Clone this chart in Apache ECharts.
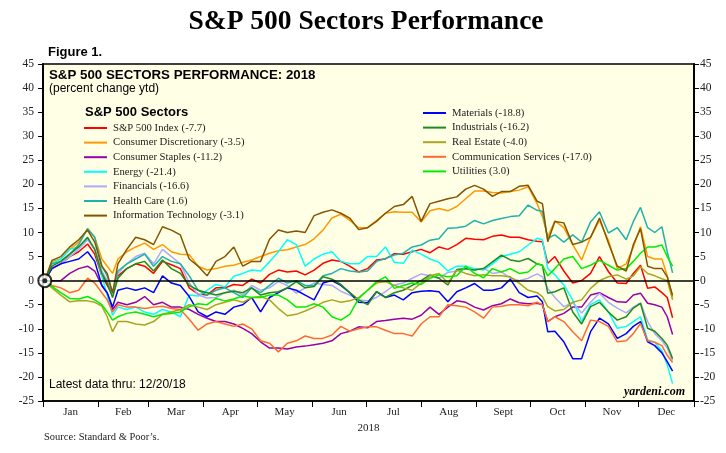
<!DOCTYPE html>
<html>
<head>
<meta charset="utf-8">
<script src="https://cdn.jsdelivr.net/npm/echarts@6/dist/echarts.min.js"></script>
<style>
html,body{margin:0;padding:0;background:#fff;}
#chart{width:726px;height:453px;}
</style>
</head>
<body>
<div id="chart"></div>
<script>
// ---- data (percent change ytd, 2018) ----
const days = [1,5,10,15,20,25, 29,33,36,39,42,
  47,52,57,62,67,72,77,82,87,92,
  97,102,107,112,117,122,127,132,137,142,
  147,152,157,162,167,172,177,182,187,192,
  197,202,207,212,217,222,227,232,237,242,
  247,252,257,262,267,272,277,
  280,283,287,
  292,297,302,307,312,317,322,327,
  331,335,339,343,347,350,353];

const sp500 = [0,2.6,3.5,5,6,7.6, 5.5,1,-1,-3,1,
  2.5,3.5,3,1.5,4,3.3,2.5,-1.5,-2.8,-3,
  -1.5,-1.5,-0.8,-1,0.3,-0.5,1.3,2.2,1.8,2,
  1.2,2.2,3.6,4.3,4,3,1.8,2.5,4.3,4.5,
  5.6,5.5,6,6.5,5.8,7,6.5,7.5,8.8,8.6,
  8.5,9.2,9.5,9,9,8.5,8.2,
  8.1,3.6,5,
  2,-0.5,0,1.5,5,1.9,-0.5,-0.6,
  1.5,3.2,-1.6,-1.3,-2.5,-3.5,-7.7];

const consDisc = [0,4,4.5,6.5,8,10.8, 9,4.5,3,1.5,4.5,
  6,7,7.8,6.5,7.5,6,5.5,5.4,3,2.2,
  2.5,3,3.2,3.8,4.3,5,5.7,6.2,6.4,7,
  7.5,8.7,10.5,13,13.8,12.5,11,11,12.5,14,
  14.3,14.2,14.2,12.2,14.5,15,14.5,15.4,17,18.6,
  18.6,18.3,18.2,18.5,18.8,19.5,16,
  13.3,9.1,12.4,
  11,7.5,4.3,9,12.5,8.4,2.5,3.5,
  7,11.2,5,4.5,4.5,1,-3.5];

const consStaples = [0,0,0,1.5,2.5,3, 2,-1,-2.6,-6,-4.5,
  -5,-4.5,-3.3,-5,-4.5,-5.5,-5.5,-6,-7,-7.8,
  -8.5,-8.5,-9,-9.9,-11,-12.7,-14,-14,-14.2,-13.8,
  -13.6,-13.3,-13,-12.5,-11,-10.5,-9.6,-9.8,-8.5,-8.3,
  -8,-7.8,-8,-7.2,-5.5,-7,-5.5,-4.2,-4.5,-5.5,
  -6.1,-5.2,-4.8,-3.8,-4.6,-4.8,-4.7,
  -5,-8.5,-7.5,
  -6.8,-5.5,-5.5,-3,-2.5,-3.5,-4.4,-4.5,
  -3,-2.6,-4.7,-5,-5.5,-7.5,-11.2];

const energy = [0,3.6,4.5,6.5,7,8.7, 6.5,1,-3,-7.2,-5.5,
  -6,-5.5,-6.5,-7,-6,-6.5,-7.5,-3,-3.2,-2,
  -0.8,-1.3,0.9,1.5,2.2,2,3.9,6,8.5,7.5,
  3,4.5,5.5,6,4,3.5,3.5,5,5,7,
  3.8,3.6,6.3,5.5,4.5,3.8,2,3,3,2.5,
  2.2,3.5,5,5.5,6,7.4,8.8,
  8.5,2.5,1.2,
  -0.9,-4,-8.5,-5,-4,-6.5,-9.9,-9.5,
  -8.5,-7.5,-12.3,-12.8,-14.5,-17.5,-21.4];

const financials = [0,2.5,3.5,5,6.5,8.5, 6.5,2,0,-3,1.5,
  3.5,5,5.7,3.5,6.5,5,3.5,-0.5,-3,-3.6,
  -3.5,-2.5,-2,-3,-1,-2,-1.5,-0.2,-1,-2.6,
  -1.5,-0.5,-0.8,-1,-2.2,-3,-4,-4.2,-3.5,-2.3,
  -0.9,-0.5,0.5,1.4,1,0.5,1.7,2,2.4,2.2,
  2.6,1.5,1.8,0.5,0,0.5,1.4,
  0.8,-1.6,-3.5,
  -5.4,-4.5,-6.7,-4.5,-2.6,-4.5,-5.7,-6.7,
  -5.5,-4.6,-8.5,-11,-12.5,-14,-16.6];

const healthCare = [0,3.5,4,5.5,7.5,10.8, 9,3,1,-2.5,2,
  3.5,4.5,5.5,3,5,4,3.5,1,-2,-3,
  -2,-1.5,-2.5,-3.5,-1.5,-2.5,-1,0.5,-0.5,0,
  -1,-1,1,1.5,2.5,2,1.8,2,4,4.6,
  5.3,5.7,7,7.4,8.4,8.7,10.9,11,11.3,12.5,
  11.8,12.5,12.9,13.3,13.5,15.7,14.6,
  14.4,8.8,9.5,
  8,9.5,8,12.2,14.3,9.9,11,8.5,
  12.3,15.2,11,10,11.2,6,1.6];

const infoTech = [0,4.2,5,7,8.5,10.5, 8,3,1.5,-2.6,3.5,
  6.5,9,8.5,7.5,11.2,10.5,9.5,4.5,3,1,
  4,5,7,3,4,4,8.6,10.5,10,10.3,
  10,13.5,14.2,14.7,14,13,10.6,11,12.3,14,
  15.4,15.8,17.5,12.3,16,16.5,17,17.4,19,19.8,
  19,17.5,18.5,18.5,19.6,19.8,16.5,
  16,8.1,12.3,
  12,7.5,8,9,13,7.8,3,2,
  7.5,10.8,3,2.5,2.5,0.8,-3.1];

const materials = [0,2.5,3.5,4,4.5,6, 4,-1,-2.5,-5.5,-2,
  -1.5,-2,-1.5,-2.5,1,-0.5,-1,-3.3,-6.5,-7.5,
  -6.5,-7,-5.5,-5,-3.5,-6.5,-3.5,-2.5,-1.5,-2,
  -3,-4,-0.5,0,-1,-2.5,-4.5,-4.6,-2.3,-3.5,
  -3,-4,-2.5,-2.2,-2.1,-2.3,-4.4,-2.3,-1.5,-0.6,
  -2,-2,-1.5,0.3,-2.5,-3.5,-3.2,
  -4.4,-10.6,-10.5,
  -12.7,-16.2,-16.2,-10.6,-7.8,-9,-12,-11,
  -9.5,-8.5,-12.7,-13.5,-15,-16.8,-18.8];

const industrials = [0,3,4,5.5,7,9, 6.5,1.5,-0.5,-3.5,0.5,
  2.5,3.5,4,2,4.3,2.5,1.5,-1,-2,-2.5,
  -3,-2.5,-2.2,-2.5,-1.5,-3,-2.5,-2.3,-1.5,-0.2,
  -1.5,-1.2,0.8,0.3,-0.8,-2.5,-4,-5,-2.3,-3.5,
  -2.5,-2,-1,0,1.2,0.5,-0.9,2.3,2.5,2.2,
  2.5,3.9,5.3,4.3,4,4.6,3.5,
  3.2,-2.6,-2.3,
  -1.5,-6.5,-9,-5.4,-4.5,-6.5,-8.2,-7.5,
  -5.7,-4.7,-9.9,-10.5,-12,-13.4,-16.2];

const realEstate = [0,-1.5,-3,-4.4,-4.2,-4.2, -4.5,-5.3,-7.5,-10.6,-8.5,
  -8.5,-9,-9.2,-8.5,-7,-6.5,-6,-5,-5.5,-6,
  -5,-4.5,-4,-4.5,-3.5,-3.3,-4,-5.8,-7.3,-7,
  -6.3,-5.5,-4.5,-4,-4.5,-4.2,-3.5,-2,-0.5,-0.2,
  -1,-1.5,-2,-0.5,1,1.5,-0.5,2.2,1.5,1,
  1.2,1,1,0.8,-0.5,-2,-2.5,
  -3.3,-5.4,-6.3,
  -6,-4.5,-4,-1.6,0,0.8,1.2,0.3,
  1,2.9,1.5,1,0.4,0,-4];

const commServices = [0,-1,-1.5,-2.5,-2,0.5, -0.5,-2.5,-4,-6.5,-5,
  -5.5,-5.5,-5.8,-5.5,-5.3,-5.8,-6,-8,-10.3,-9,
  -8.5,-9,-9.5,-9,-10,-12.5,-13,-14.8,-13,-12.5,
  -11.5,-12,-12,-11.3,-9.5,-10.5,-10,-9.6,-9.6,-10.3,
  -11,-11,-11.5,-9,-7.5,-7.5,-5,-5.2,-5.5,-6.5,
  -7.8,-5.5,-5.3,-5,-5,-5.2,-4.5,
  -5,-8.5,-7.5,
  -8.5,-10.6,-12.5,-8.2,-8.5,-9.5,-12.7,-12.5,
  -11,-8.9,-12.5,-12.8,-13.5,-15.5,-17];

const utilities = [0,-1.2,-2.5,-3.7,-3.8,-3.3, -4,-5,-6.5,-8.2,-7.5,
  -6.8,-6.5,-7,-7.5,-7,-6.8,-6.5,-5.4,-4.8,-5,
  -3.7,-4.2,-3.8,-3.2,-3.5,-3.5,-3,-3,-4,-5.5,
  -5.5,-4.8,-5.5,-7.5,-8.2,-7,-3.7,-2,-0.2,0.8,
  -1.6,-1,-0.5,-0.8,0.5,1.2,0.8,1,3,1.5,
  0.6,2.5,1.8,2.5,1.5,1.8,3.5,
  3.2,1,2.5,
  4.5,5,2.5,3.2,4.2,3.2,2.2,2.5,
  4,5.7,7,7,7.4,5,3];

const leftNames = ['S&P 500 Index (-7.7)','Consumer Discretionary (-3.5)','Consumer Staples (-11.2)',
  'Energy (-21.4)','Financials (-16.6)','Health Care (1.6)','Information Technology (-3.1)'];
const rightNames = ['Materials (-18.8)','Industrials (-16.2)','Real Estate (-4.0)',
  'Communication Services (-17.0)','Utilities (3.0)'];

const monthNames = ['Jan','Feb','Mar','Apr','May','Jun','Jul','Aug','Sept','Oct','Nov','Dec'];
const monthStarts = [0,31,59,90,120,151,181,212,243,273,304,334,365];
const yMin = -25, yMax = 45, yStep = 5;

// ---- chart ----
const serif = '"Liberation Serif", "Times New Roman", serif';
const sans = '"Liberation Sans", Arial, sans-serif';
const monthMids = monthNames.map((m,i)=> (monthStarts[i]+monthStarts[i+1])/2);

const seriesDefs = [
  [leftNames[0], sp500, '#FF0000'],
  [leftNames[1], consDisc, '#FF9900'],
  [leftNames[2], consStaples, '#9900A8'],
  [leftNames[3], energy, '#00FFFF'],
  [leftNames[4], financials, '#AAAAFF'],
  [leftNames[5], healthCare, '#20B2AA'],
  [rightNames[0], materials, '#0000FF'],
  [rightNames[1], industrials, '#1E8B1E'],
  [rightNames[2], realEstate, '#A8A520'],
  [rightNames[3], commServices, '#FF6A33'],
  [rightNames[4], utilities, '#00EE00'],
  [leftNames[6], infoTech, '#845400']
];

const series = seriesDefs.map(([name, vals, color], k) => {
  const s = {
    name, type:'line', data: days.map((d,i)=>[d, vals[i]]),
    showSymbol:false, symbol:'none',
    lineStyle:{color, width:1.5}, itemStyle:{color},
    emphasis:{disabled:true}, silent:true, z:3
  };
  if (k === 0) {
    s.markLine = {silent:true, symbol:'none', label:{show:false},
      lineStyle:{color:'#000', width:1.6, type:'solid'}, data:[{yAxis:0}], z:5};
  }
  return s;
});
series.push({type:'scatter', data:[[days[0], sp500[0]]], symbol:'circle', symbolSize:13,
  itemStyle:{color:'#fff', borderColor:'#000', borderWidth:2}, z:10, silent:true});
series.push({type:'scatter', data:[[days[0], sp500[0]]], symbol:'circle', symbolSize:5,
  itemStyle:{color:'#000'}, z:11, silent:true});

const yAxisBase = (pos, margin) => ({
  type:'value', min:yMin, max:yMax, interval:yStep, position:pos,
  axisLine:{show:true, lineStyle:{color:'#000', width:2}},
  axisTick:{show:true, length:5, lineStyle:{color:'#000', width:1}},
  axisLabel:{color:'#222', fontFamily:serif, fontSize:11.5, margin},
  splitLine:{show:false}
});

const legendBase = {
  orient:'vertical', icon:'rect', itemWidth:23, itemHeight:2, itemGap:2.6,
  selectedMode:false,
  textStyle:{fontFamily:serif, fontSize:10.7, color:'#222', lineHeight:12, padding:[0,0,0,1]}
};

const option = {
  animation:false,
  backgroundColor:'#fff',
  grid:{left:43, right:32, top:64, bottom:52, show:true, backgroundColor:'#FFFFE6',
    borderColor:'#000', borderWidth:1.5},
  xAxis:{
    type:'value', min:0, max:365,
    axisLine:{show:true, onZero:false, lineStyle:{color:'#000', width:1.5}},
    axisTick:{show:true, customValues:monthStarts, length:6, lineStyle:{color:'#000'}},
    axisLabel:{customValues:monthMids, color:'#222', fontFamily:serif, fontSize:11, margin:6,
      formatter:(v)=>{ const i = monthMids.indexOf(v); return i>=0 ? monthNames[i] : ''; }},
    splitLine:{show:false},
    name:'2018', nameLocation:'middle', nameGap:21,
    nameTextStyle:{color:'#222', fontFamily:serif, fontSize:11}
  },
  yAxis:[yAxisBase('left', 9), yAxisBase('right', 6)],
  legend:[
    Object.assign({}, legendBase, {data:leftNames, left:79, top:117}),
    Object.assign({}, legendBase, {data:rightNames, left:418, top:102})
  ],
  graphic:[
    {type:'text', x:366, y:22, style:{text:'S&P 500 Sectors Performance', font:'bold 27.5px '+serif,
      fill:'#000', textAlign:'center', textVerticalAlign:'middle'}},
    {type:'text', x:48, y:52, style:{text:'Figure 1.', font:'bold 13px '+sans, fill:'#000',
      textAlign:'left', textVerticalAlign:'middle'}},
    {type:'text', x:49, y:75, z:20, style:{text:'S&P 500 SECTORS PERFORMANCE: 2018', font:'bold 13.3px '+sans,
      fill:'#000', textAlign:'left', textVerticalAlign:'middle'}},
    {type:'text', x:49, y:89, z:20, style:{text:'(percent change ytd)', font:'12px '+sans, fill:'#000',
      textAlign:'left', textVerticalAlign:'middle'}},
    {type:'text', x:85, y:112, z:20, style:{text:'S&P 500 Sectors', font:'bold 13px '+sans, fill:'#000',
      textAlign:'left', textVerticalAlign:'middle'}},
    {type:'text', x:49, y:385, z:20, style:{text:'Latest data thru: 12/20/18', font:'12px '+sans, fill:'#000',
      textAlign:'left', textVerticalAlign:'middle'}},
    {type:'text', x:685, y:392, z:20, style:{text:'yardeni.com', font:'italic bold 12px '+serif, fill:'#000',
      textAlign:'right', textVerticalAlign:'middle'}},
    {type:'text', x:44, y:437, style:{text:'Source: Standard & Poor\u2019s.', font:'10.5px '+serif, fill:'#222',
      textAlign:'left', textVerticalAlign:'middle'}}
  ],
  series
};

const chart = echarts.init(document.getElementById('chart'), null, {renderer:'canvas'});
chart.setOption(option);
</script>
</body>
</html>
